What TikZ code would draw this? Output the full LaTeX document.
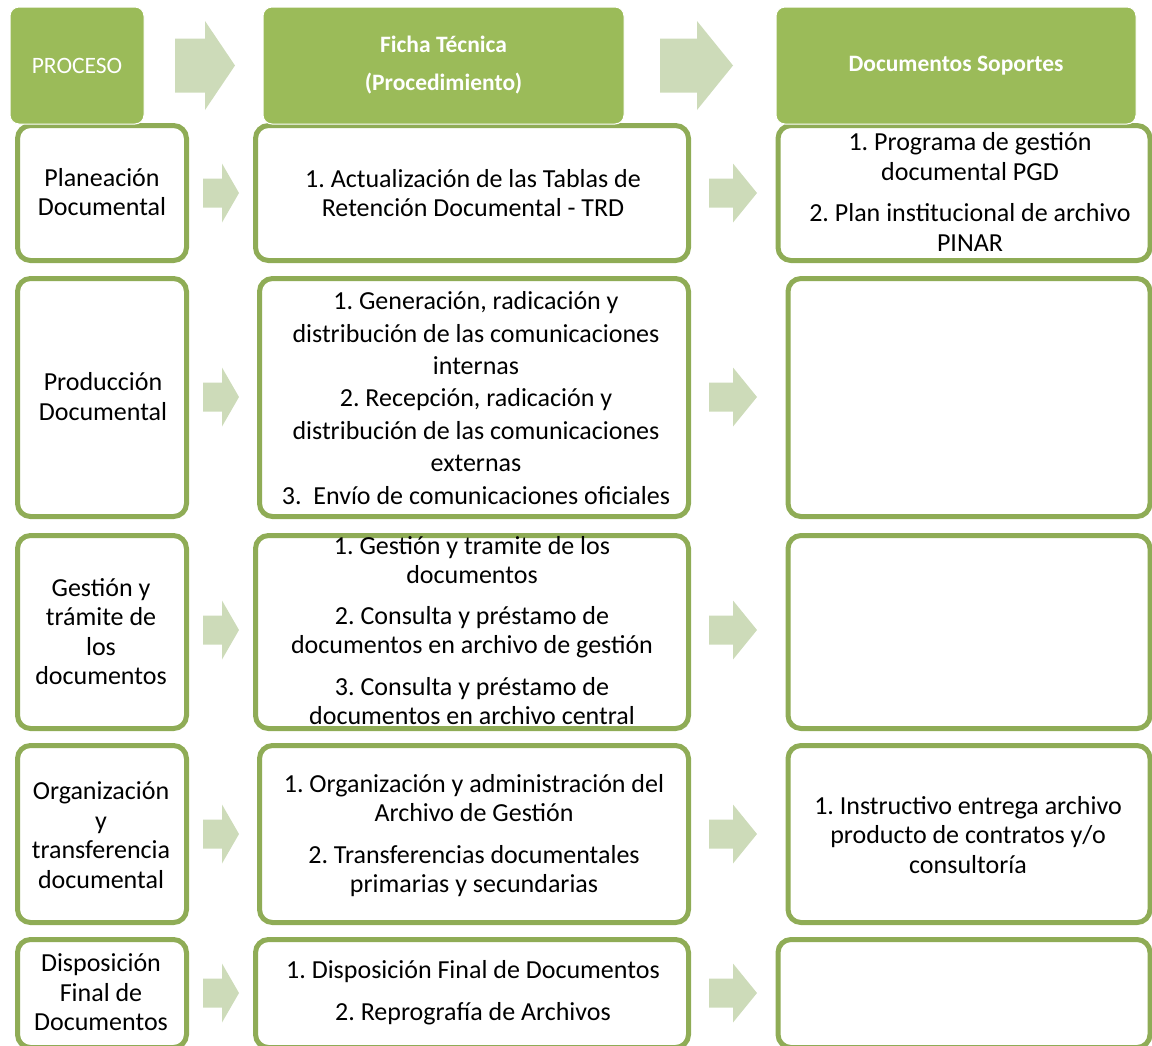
\documentclass[tikz,border=0pt]{standalone}
\usepackage{fontspec}
\setmainfont{Carlito}
\frenchspacing
\definecolor{hdrgreen}{HTML}{9BBB59}
\definecolor{bordgreen}{HTML}{8FAC56}
\definecolor{arrgreen}{HTML}{CDDBB9}
\newcommand\bodyfnt{\fontsize{26}{29.5}\selectfont}
\newcommand\hdrfnt{\fontsize{23.5}{38}\selectfont}
\newcommand\blockarr[6]{% x0, xhead, xtip, yc, shaft half, head half
  \fill[arrgreen] (#1,#4-#5) -- (#2,#4-#5) -- (#2,#4-#6) -- (#3,#4) -- (#2,#4+#6) -- (#2,#4+#5) -- (#1,#4+#5) -- cycle;}
\tikzset{
  rowbox/.style={draw=bordgreen, line width=5pt, rounded corners=13pt, fill=white, inner sep=0pt},
  hdrbox/.style={fill=hdrgreen, draw=white, line width=1pt, rounded corners=9pt, inner sep=0pt, text=white, font=\hdrfnt, align=center},
  txt/.style={align=center, font=\bodyfnt, inner sep=0pt, text=black},
}
\begin{document}
\begin{tikzpicture}[x=1pt,y=-1pt]
\useasboundingbox (0,0) rectangle (1152,1045);
\clip (0,0) rectangle (1152,1045);
% row boxes
\node[rowbox, minimum width=169, minimum height=135] (b1l) at (102,193) {};
\node[rowbox, minimum width=433, minimum height=135] (b1m) at (472,193) {};
\node[rowbox, minimum width=372, minimum height=135] (b1r) at (964,193) {};
\node[rowbox, minimum width=169, minimum height=238] (b2l) at (102,397.5) {};
\node[rowbox, minimum width=429, minimum height=238] (b2m) at (474,397.5) {};
\node[rowbox, minimum width=362, minimum height=238] (b2r) at (969,397.5) {};
\node[rowbox, minimum width=169, minimum height=193] (b3l) at (102,632) {};
\node[rowbox, minimum width=433, minimum height=193] (b3m) at (472,632) {};
\node[rowbox, minimum width=362, minimum height=193] (b3r) at (969,632) {};
\node[rowbox, minimum width=169, minimum height=177] (b4l) at (102,834) {};
\node[rowbox, minimum width=429, minimum height=177] (b4m) at (474,834) {};
\node[rowbox, minimum width=362, minimum height=177] (b4r) at (969,834) {};
\node[rowbox, minimum width=169, minimum height=108] (b5l) at (102,993.5) {};
\node[rowbox, minimum width=433, minimum height=108] (b5m) at (472,993.5) {};
\node[rowbox, minimum width=372, minimum height=108] (b5r) at (964,993.5) {};
% header boxes
\node[hdrbox, minimum width=134, minimum height=117] (h1) at (77,65.5) {PROCESO};
\node[hdrbox, minimum width=361, minimum height=117, font=\hdrfnt\bfseries] (h2) at (443.5,65.5) {Ficha Técnica\\(Procedimiento)};
\node[hdrbox, minimum width=360, minimum height=117, font=\hdrfnt\bfseries] (h3) at (956,65.5) {Documentos Soportes};
% header arrows
\blockarr{175}{205}{235}{65.5}{27}{44.5}
\blockarr{660}{697}{733}{65.5}{27}{44.5}
% row arrows
\foreach \yc in {193,397,630,834,993}{
  \blockarr{203}{222}{239}{\yc}{14.5}{29.5}
  \blockarr{709}{733}{757}{\yc}{14.5}{29.5}
}
% texts
\node[txt] (t1l) at (102,192) {Planeación\\Documental};
\node[txt] (t1m) at (473,193) {1. Actualización de las Tablas de\\Retención Documental - TRD};
\node[txt] (t1r) at (970,192) {1. Programa de gestión\\documental PGD\\[12pt]2. Plan institucional de archivo\\PINAR};
\node[txt] (t2l) at (103,396.5) {Producción\\Documental};
\node[txt, font=\fontsize{26}{32.4}\selectfont] (t2m) at (476,398) {1. Generación, radicación y\\distribución de las comunicaciones\\internas\\2. Recepción, radicación y\\distribución de las comunicaciones\\externas\\3.\ \ Envío de comunicaciones oficiales};
\node[txt] (t3l) at (101,631.5) {Gestión y\\trámite de\\los\\documentos};
\node[txt] (t3m) at (472,630.5) {1. Gestión y tramite de los\\documentos\\[11pt]2. Consulta y préstamo de\\documentos en archivo de gestión\\[12pt]3. Consulta y préstamo de\\documentos en archivo central};
\node[txt] (t4l) at (101,835) {Organización\\y\\transferencia\\documental};
\node[txt] (t4m) at (474,835.5) {1. Organización y administración del\\Archivo de Gestión\\[12pt]2. Transferencias documentales\\primarias y secundarias};
\node[txt] (t4r) at (968,835) {1. Instructivo entrega archivo\\producto de contratos y/o\\consultoría};
\node[txt] (t5l) at (101,992.5) {Disposición\\Final de\\Documentos};
\node[txt] (t5m) at (473,992.5) {1. Disposición Final de Documentos\\[12pt]2. Reprografía de Archivos};
\end{tikzpicture}
\end{document}
